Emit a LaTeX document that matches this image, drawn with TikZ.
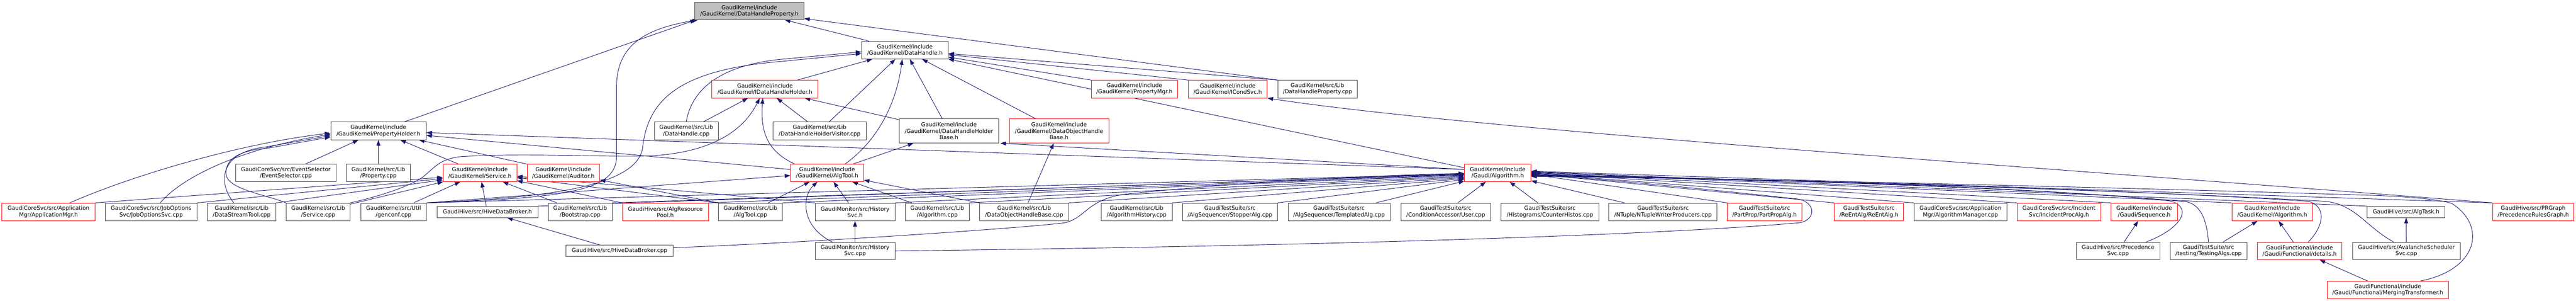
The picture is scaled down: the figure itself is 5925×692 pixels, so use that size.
\documentclass[tikz,border=0pt]{standalone}
\usepackage{fontspec}
\setmainfont{DejaVu Sans}
\usetikzlibrary{arrows.meta}
\definecolor{edgeblue}{HTML}{191970}
\definecolor{nodegray}{HTML}{404040}
\definecolor{rootfill}{HTML}{BFBFBF}
\pgfdeclarelayer{bg}
\pgfsetlayers{bg,main}
\newcommand\gnode[7]{%
  \pgfmathsetmacro\gtw{#5-22}%
  \node[#1, minimum width=#5pt, minimum height=#6pt, text width=\gtw pt] (#2) at (#3,#4) {#7};}
\newcommand\gbr{\hspace*{\fill}\\}
\begin{document}
\begin{tikzpicture}[x=1pt,y=-1pt,
  nb/.style={draw=nodegray, fill=white, line width=1pt, inner sep=0pt, align=center, font=\fontsize{12.75}{14.5}\selectfont},
  nr/.style={nb, draw=red},
  nroot/.style={nb, fill=rootfill},
  dep/.style={draw=edgeblue, line width=1.1pt, -{Triangle[length=13pt,width=9pt]}}]
\useasboundingbox (0,0) rectangle (5925,692);
% row 0-1
\gnode{nroot}{dhp}{1723.5}{25.2}{251}{40}{GaudiKernel/include\gbr /GaudiKernel/DataHandleProperty.h}
\gnode{nb}{dh}{2081.25}{115.2}{198.9}{40.6}{GaudiKernel/include\gbr /GaudiKernel/DataHandle.h}
% row 2
\gnode{nr}{idhh}{1759.45}{204.8}{244.1}{40.6}{GaudiKernel/include\gbr /GaudiKernel/IDataHandleHolder.h}
\gnode{nr}{pmgr}{2609.1}{204.8}{198.6}{40.6}{GaudiKernel/include\gbr /GaudiKernel/PropertyMgr.h}
\gnode{nr}{icond}{2823.8}{204.8}{181.8}{40.6}{GaudiKernel/include\gbr /GaudiKernel/ICondSvc.h}
\gnode{nb}{dhpcpp}{3030.25}{204.8}{182.9}{40.6}{GaudiKernel/src/Lib\gbr /DataHandleProperty.cpp}
% row 3
\gnode{nb}{ph}{870.35}{301}{219.3}{40.6}{GaudiKernel/include\gbr /GaudiKernel/PropertyHolder.h}
\gnode{nb}{dhcpp}{1578.45}{301}{146.9}{40.6}{GaudiKernel/src/Lib\gbr /DataHandle.cpp}
\gnode{nb}{dhhv}{1885.15}{301}{214.7}{40.6}{GaudiKernel/src/Lib\gbr /DataHandleHolderVisitor.cpp}
\gnode{nb}{dhhb}{2182.65}{301.2}{229.5}{55.2}{GaudiKernel/include\gbr /GaudiKernel/DataHandleHolder\gbr Base.h}
\gnode{nr}{dohb}{2435.8}{301.2}{228.4}{55.2}{GaudiKernel/include\gbr /GaudiKernel/DataObjectHandle\gbr Base.h}
% row 4
\gnode{nb}{evsel}{657.4}{397.6}{230.4}{39.7}{GaudiCoreSvc/src/EventSelector\gbr /EventSelector.cpp}
\gnode{nb}{propcpp}{870.35}{397.6}{147.3}{39.7}{GaudiKernel/src/Lib\gbr /Property.cpp}
\gnode{nr}{svch}{1103.75}{397.6}{169.5}{39.7}{GaudiKernel/include\gbr /GaudiKernel/Service.h}
\gnode{nr}{aud}{1295.65}{397.6}{166.9}{39.7}{GaudiKernel/include\gbr /GaudiKernel/Auditor.h}
\gnode{nr}{algtoolh}{1902.4}{397.6}{168}{39.7}{GaudiKernel/include\gbr /GaudiKernel/AlgTool.h}
\gnode{nr}{galg}{3444.85}{397.6}{152.7}{39.7}{GaudiKernel/include\gbr /Gaudi/Algorithm.h}
% row 5
\gnode{nr}{appmgr}{111.55}{487.2}{213.9}{40.6}{GaudiCoreSvc/src/Application\gbr Mgr/ApplicationMgr.h}
\gnode{nb}{jobopt}{347.65}{487.2}{210.9}{40.6}{GaudiCoreSvc/src/JobOptions\gbr Svc/JobOptionsSvc.cpp}
\gnode{nb}{dstool}{555.8}{487.2}{157.2}{40.6}{GaudiKernel/src/Lib\gbr /DataStreamTool.cpp}
\gnode{nb}{svccpp}{731.8}{487.2}{146.6}{40.6}{GaudiKernel/src/Lib\gbr /Service.cpp}
\gnode{nb}{genconf}{905.15}{487.2}{151.1}{40.6}{GaudiKernel/src/Util\gbr /genconf.cpp}
\gnode{nb}{hdbh}{1121}{487.2}{232.2}{25.6}{GaudiHive/src/HiveDataBroker.h}
\gnode{nb}{boot}{1334.3}{487.2}{147}{40.6}{GaudiKernel/src/Lib\gbr /Bootstrap.cpp}
\gnode{nr}{arp}{1530.4}{487.2}{197.8}{40.6}{GaudiHive/src/AlgResource\gbr Pool.h}
\gnode{nb}{algtoolcpp}{1726}{487.2}{146.6}{40.6}{GaudiKernel/src/Lib\gbr /AlgTool.cpp}
\gnode{nb}{histh}{1966.65}{487.2}{183.3}{40.6}{GaudiMonitor/src/History\gbr Svc.h}
\gnode{nb}{algcpp}{2155.85}{487.2}{146.9}{40.6}{GaudiKernel/src/Lib\gbr /Algorithm.cpp}
\gnode{nb}{dohbcpp}{2355.6}{487.2}{204.4}{40.6}{GaudiKernel/src/Lib\gbr /DataObjectHandleBase.cpp}
\gnode{nb}{alghist}{2614.3}{487.2}{163}{40.6}{GaudiKernel/src/Lib\gbr /AlgorithmHistory.cpp}
\gnode{nb}{stopper}{2828.95}{487.2}{218.1}{40.6}{GaudiTestSuite/src\gbr /AlgSequencer/StopperAlg.cpp}
\gnode{nb}{templ}{3079.8}{487.2}{234.6}{40.6}{GaudiTestSuite/src\gbr /AlgSequencer/TemplatedAlg.cpp}
\gnode{nb}{user}{3325.25}{487.2}{206.7}{40.6}{GaudiTestSuite/src\gbr /ConditionAccessor/User.cpp}
\gnode{nb}{counter}{3565}{487.2}{224.6}{40.6}{GaudiTestSuite/src\gbr /Histograms/CounterHistos.cpp}
\gnode{nb}{ntuple}{3825}{487.2}{248.8}{40.6}{GaudiTestSuite/src\gbr /NTuple/NTupleWriterProducers.cpp}
\gnode{nr}{partprop}{4058.45}{487.2}{170.7}{40.6}{GaudiTestSuite/src\gbr /PartProp/PartPropAlg.h}
\gnode{nr}{reent}{4298.7}{487.2}{159.2}{40.6}{GaudiTestSuite/src\gbr /ReEntAlg/ReEntAlg.h}
\gnode{nb}{algmgr}{4509.2}{487.2}{213.6}{40.6}{GaudiCoreSvc/src/Application\gbr Mgr/AlgorithmManager.cpp}
\gnode{nr}{incproc}{4735.75}{487.2}{192.1}{40.6}{GaudiCoreSvc/src/Incident\gbr Svc/IncidentProcAlg.h}
\gnode{nr}{seq}{4931.85}{487.2}{151.9}{40.6}{GaudiKernel/include\gbr /Gaudi/Sequence.h}
\gnode{nr}{gkalg}{5226.3}{487.2}{186}{40.6}{GaudiKernel/include\gbr /GaudiKernel/Algorithm.h}
\gnode{nb}{algtask}{5534.1}{487.2}{179.2}{25.6}{GaudiHive/src/AlgTask.h}
\gnode{nr}{prg}{5826.55}{487.2}{186.9}{40.6}{GaudiHive/src/PRGraph\gbr /PrecedenceRulesGraph.h}
% row 6
\gnode{nb}{hdbcpp}{1425}{576.5}{247.2}{25.2}{GaudiHive/src/HiveDataBroker.cpp}
\gnode{nb}{histcpp}{1966.65}{576.9}{183.3}{39.7}{GaudiMonitor/src/History\gbr Svc.cpp}
\gnode{nb}{precsvc}{4871.75}{576.9}{191.7}{39.7}{GaudiHive/src/Precedence\gbr Svc.cpp}
\gnode{nb}{testing}{5079.7}{576.9}{176.8}{39.7}{GaudiTestSuite/src\gbr /testing/TestingAlgs.cpp}
\gnode{nr}{details}{5289.05}{576.9}{195.1}{39.7}{GaudiFunctional/include\gbr /Gaudi/Functional/details.h}
\gnode{nb}{aval}{5534.75}{576.9}{248.1}{39.7}{GaudiHive/src/AvalancheScheduler\gbr Svc.cpp}
% row 7
\gnode{nr}{merging}{5491.95}{666.4}{278.1}{39.8}{GaudiFunctional/include\gbr /Gaudi/Functional/MergingTransformer.h}

\begin{pgfonlayer}{bg}
% into DataHandleProperty.h
\draw[dep] (ph) -- ([xshift=3pt]dhp.south west);
\draw[dep] (genconf.north east) .. controls (1300,455) and (1418,440) .. (1418,360) -- (1418,200) .. controls (1418,100) and (1490,65) .. ([xshift=8pt]dhp.south west);
\draw[dep] (dh) -- (dhp);
\draw[dep] (dhpcpp.north west) -- ([yshift=3pt]dhp.south east);
% into DataHandle.h
\draw[dep] (dhcpp.north) .. controls (1590,210) and (1650,150) .. (1800,136) -- ([yshift=-4pt]dh.west);
\draw[dep] (genconf.north east) .. controls (1250,455) and (1465,430) .. (1478,340) .. controls (1490,230) and (1560,160) .. (1800,141) -- ([yshift=-8pt]dh.west);
\draw[dep] (idhh) -- (dh);
\draw[dep] (dhhv) -- (dh);
\draw[dep] ([xshift=41pt]algtoolh.north) .. controls (2010,330) and (2060,250) .. ([xshift=-6pt]dh.south);
\draw[dep] (dhhb) -- (dh);
\draw[dep] (dohb) -- (dh);
\draw[dep] ([yshift=12pt]galg.west) -- (dh);
\draw[dep] (dhpcpp.north west) -- (dh);
\draw[dep] (icond.north west) -- (dh);
\draw[dep] (pmgr.north west) -- (dh);
% into IDataHandleHolder.h
\draw[dep] (dhcpp) -- (idhh);
\draw[dep] (svccpp.north east) .. controls (880,450) and (950,425) .. (975,405) .. controls (1000,385) and (1010,366) .. (1060,360) .. controls (1200,352) and (1350,360) .. (1468,359) .. controls (1600,358) and (1700,320) .. ([xshift=-12pt]idhh.south);
\draw[dep] ([xshift=10pt]algtoolh.north west) .. controls (1770,350) and (1748,310) .. ([xshift=-5pt]idhh.south);
\draw[dep] (dhhv) -- (idhh);
\draw[dep] (dhhb) -- (idhh);
% into DataHandleHolderBase.h / DataObjectHandleBase.h / ICondSvc.h
\draw[dep] (algtoolh) -- (dhhb);
\draw[dep] ([yshift=8pt]galg.west) -- ([xshift=3pt]dhhb.south east);
\draw[dep] (dohbcpp) -- (dohb);
\draw[dep] (prg.north west) .. controls (4800,392) and (3400,300) .. (icond.south east);
% into PropertyHolder.h
\draw[dep] ([xshift=49pt]appmgr.north) .. controls (300,405) and (550,330) .. ([yshift=-5pt]ph.west);
\draw[dep] ([xshift=21pt]jobopt.north) .. controls (420,405) and (560,340) .. ([yshift=-8pt]ph.west);
\draw[dep] ([xshift=-18pt]dstool.north) .. controls (500,420) and (505,350) .. (610,338) -- ([yshift=-11pt]ph.west);
\draw[dep] (svccpp.north west) .. controls (610,447) and (522,435) .. (520,400) .. controls (518,360) and (560,345) .. (620,340) -- ([yshift=-14pt]ph.west);
\draw[dep] (evsel) -- (ph);
\draw[dep] (propcpp) -- (ph);
\draw[dep] (svch) -- (ph);
\draw[dep] (aud.north west) -- (ph);
\draw[dep] (algtoolh) -- (ph);
\draw[dep] ([yshift=8pt]galg.west) -- (ph);
% into Service.h
\draw[dep] (appmgr.north east) -- ([yshift=-10pt]svch.west);
\draw[dep] (jobopt.north east) -- ([yshift=-13pt]svch.west);
\draw[dep] (dstool.north east) -- ([yshift=-16pt]svch.west);
\draw[dep] (svccpp) -- (svch);
\draw[dep] (genconf) -- (svch);
\draw[dep] (hdbh) -- (svch);
\draw[dep] (boot) -- (svch);
\draw[dep] (arp) -- (svch);
\draw[dep] (histh.north west) -- (svch);
\draw[dep] (algtoolcpp.north west) -- (svch);
% into Auditor.h
\draw[dep] (algtoolcpp.north west) -- (aud);
% into AlgTool.h
\draw[dep] (genconf.north east) -- ([yshift=-6pt]algtoolh.west);
\draw[dep] (algtoolcpp) -- (algtoolh);
\draw[dep] ([xshift=-52pt]histcpp.north) .. controls (1840,520) and (1845,450) .. ([xshift=-22pt]algtoolh.south);
\draw[dep] (histh) -- (algtoolh);
\draw[dep] (algcpp) -- (algtoolh);
\draw[dep] (dohbcpp.north west) -- (algtoolh);
% into Gaudi/Algorithm.h, from the left
\draw[dep] (genconf.north east) -- (galg);
\draw[dep] (hdbh.north east) -- ([yshift=-2pt]galg.west);
\draw[dep] (boot.north east) -- ([yshift=-3pt]galg.west);
\draw[dep] (arp.north east) -- ([yshift=-4pt]galg.west);
\draw[dep] (algtoolcpp.north east) -- ([yshift=-5pt]galg.west);
\draw[dep] (histh.north east) -- ([yshift=-7pt]galg.west);
\draw[dep] (algcpp.north east) -- ([yshift=-9pt]galg.west);
\draw[dep] (dohbcpp.north east) -- ([yshift=-11pt]galg.west);
\draw[dep] (alghist.north east) -- ([yshift=-13pt]galg.west);
\draw[dep] (stopper.north east) -- ([yshift=-15pt]galg.west);
\draw[dep] (templ) -- (galg);
\draw[dep] ([yshift=7pt]hdbcpp.east) .. controls (1900,556) and (2380,522) .. (2450,512) .. controls (2500,500) and (2500,455) .. (2600,445) .. controls (2900,415) and (3200,402) .. ([yshift=-1pt]galg.west);
% from below
\draw[dep] (user) -- (galg);
\draw[dep] (counter) -- (galg);
% from the right
\draw[dep] (ntuple) -- (galg);
\draw[dep] (partprop.north west) -- ([yshift=-3pt]galg.east);
\draw[dep] (reent.north west) -- ([yshift=-2pt]galg.east);
\draw[dep] (algmgr.north west) -- ([yshift=-1pt]galg.east);
\draw[dep] (incproc.north west) -- (galg.east);
\draw[dep] (seq.north west) -- ([yshift=1pt]galg.east);
\draw[dep] (gkalg.north west) -- ([yshift=2pt]galg.east);
\draw[dep] (algtask.north west) -- ([yshift=3pt]galg.east);
\draw[dep] (prg.north west) -- ([yshift=4pt]galg.east);
\draw[dep] (histcpp.east) .. controls (3000,566) and (3800,542) .. (4140,512) .. controls (4178,505) and (4178,462) .. (4130,457) .. controls (3900,432) and (3650,408) .. ([yshift=-5pt]galg.east);
\draw[dep] ([xshift=64pt]precsvc.north) .. controls (5020,525) and (5045,475) .. (4990,462) .. controls (4700,430) and (4000,410) .. ([yshift=-4pt]galg.east);
\draw[dep] (testing.north) .. controls (5075,500) and (5060,472) .. (5030,464) .. controls (4700,432) and (4000,410) .. ([yshift=-5pt]galg.east);
\draw[dep] ([xshift=20pt]details.north) .. controls (5345,520) and (5352,475) .. (5310,463) .. controls (4900,435) and (4000,410) .. ([yshift=-6pt]galg.east);
\draw[dep] ([xshift=-29pt]aval.north) .. controls (5440,520) and (5420,472) .. (5350,463) .. controls (4900,437) and (4000,410) .. ([yshift=-7pt]galg.east);
\draw[dep] ([xshift=75pt]merging.north) .. controls (5700,620) and (5720,520) .. (5640,468) .. controls (5600,455) and (5500,450) .. (5420,448) .. controls (4900,432) and (4000,410) .. ([yshift=-8pt]galg.east);
% others
\draw[dep] (histcpp) -- (histh);
\draw[dep] (hdbcpp) -- (hdbh);
\draw[dep] (precsvc) -- (seq);
\draw[dep] (testing) -- (gkalg);
\draw[dep] (details) -- (gkalg);
\draw[dep] (merging) -- (details);
\draw[dep] (aval) -- (algtask);
\end{pgfonlayer}
\end{tikzpicture}
\end{document}
